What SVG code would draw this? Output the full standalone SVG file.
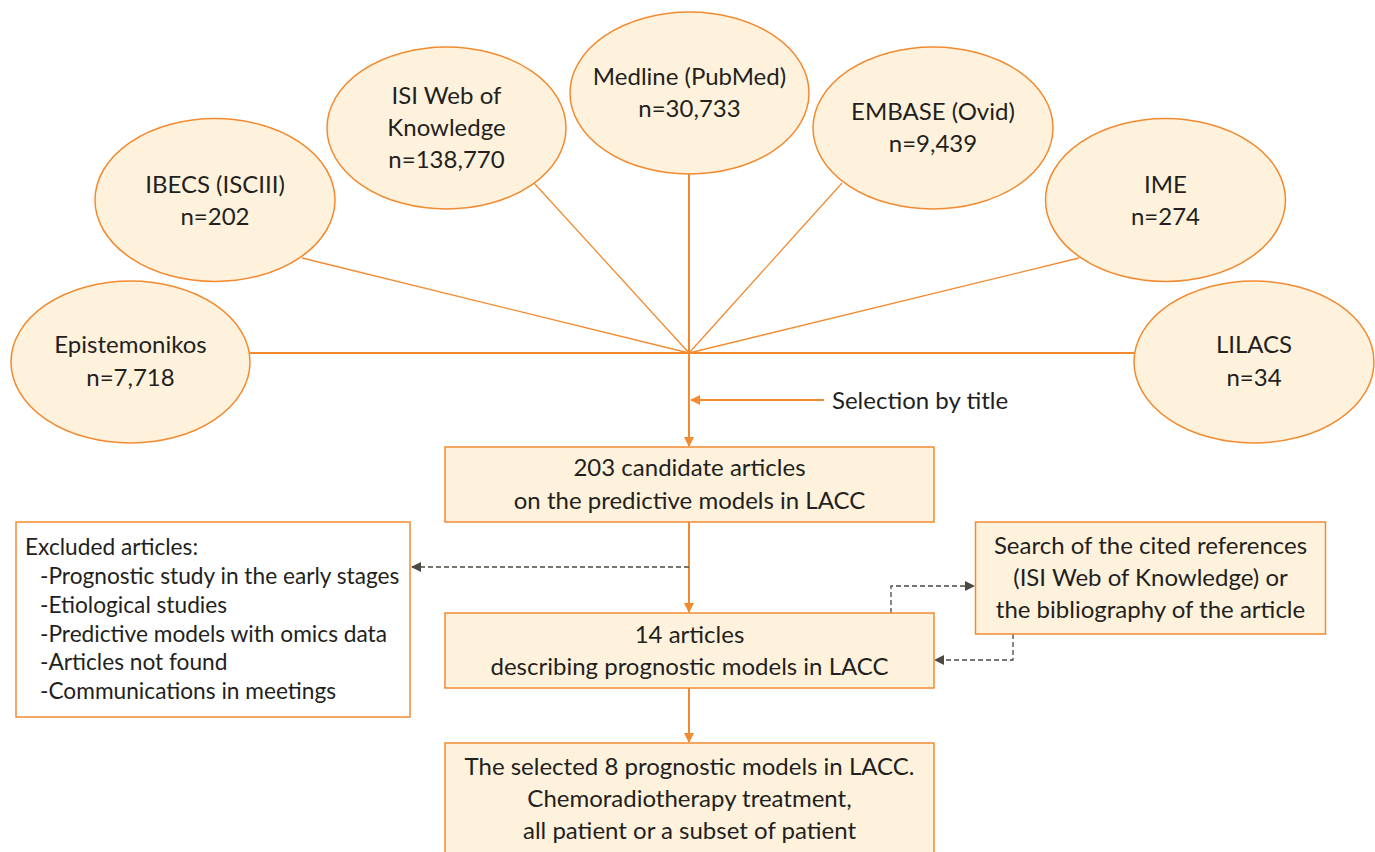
<svg xmlns="http://www.w3.org/2000/svg" width="1375" height="852" viewBox="0 0 1375 852">
<style>
.n{fill:#FEF2DC;stroke:#F28A30;stroke-width:1.5}
.b{fill:#FEF2DC;stroke:#F28A30;stroke-width:1.5}
.w{fill:#FFFFFF;stroke:#F28A30;stroke-width:1.5}
text{font-family:Lato,"Noto Sans",sans-serif;font-size:24px;fill:#231F20}
.x{font-size:22.7px}
.c{text-anchor:middle}
.l{stroke:#F28A30;stroke-width:1.3;fill:none}
.h{stroke:#F28A30;stroke-width:2;fill:none}
.d{stroke:#4A4A42;stroke-width:1.3;fill:none;stroke-dasharray:5,3}
</style>
<defs>
<marker id="ao" markerWidth="10" markerHeight="10" refX="9" refY="5" orient="auto" markerUnits="userSpaceOnUse"><path d="M0,0L10,5L0,10z" fill="#F28A30"/></marker>
<marker id="ad" markerWidth="10" markerHeight="10" refX="9" refY="5" orient="auto" markerUnits="userSpaceOnUse"><path d="M0,0L10,5L0,10z" fill="#4A4A42"/></marker>
</defs>
<rect width="1375" height="852" fill="#FFFFFF"/>
<g id="connectors">
<line class="h" x1="250" y1="353" x2="1134" y2="353"/>
<line class="l" x1="302" y1="258" x2="689" y2="353"/>
<line class="l" x1="534" y1="183" x2="689" y2="353"/>
<line class="h" x1="689" y1="174" x2="689" y2="353"/>
<line class="l" x1="842" y1="183" x2="689" y2="353"/>
<line class="l" x1="1079" y1="258" x2="689" y2="353"/>
<line class="h" x1="689" y1="353" x2="689" y2="446" marker-end="url(#ao)"/>
<line class="h" x1="824" y1="400" x2="691" y2="400" marker-end="url(#ao)"/>
<line class="h" x1="689" y1="522" x2="689" y2="612" marker-end="url(#ao)"/>
<line class="h" x1="689" y1="688" x2="689" y2="742" marker-end="url(#ao)"/>
<line class="d" x1="689" y1="567" x2="412" y2="567" marker-end="url(#ad)"/>
<polyline class="d" points="891,613 891,586 974,586" marker-end="url(#ad)"/>
<polyline class="d" points="1013,634 1013,660 935,660" marker-end="url(#ad)"/>
</g>
<g id="epistemonikos"><ellipse class="n" cx="130.5" cy="362" rx="119.5" ry="81"/><text class="c" x="130.5" y="353">Epistemonikos</text><text class="c" x="130.5" y="386">n=7,718</text></g>
<g id="ibecs"><ellipse class="n" cx="215" cy="200" rx="120" ry="81.5"/><text class="c" x="215" y="193">IBECS (ISCIII)</text><text class="c" x="215" y="225">n=202</text></g>
<g id="isi"><ellipse class="n" cx="446.5" cy="128" rx="119.5" ry="81"/><text class="c" x="446.5" y="104">ISI Web of</text><text class="c" x="446.5" y="136">Knowledge</text><text class="c" x="446.5" y="168">n=138,770</text></g>
<g id="medline"><ellipse class="n" cx="689.5" cy="93" rx="119.5" ry="81"/><text class="c" x="689.5" y="85">Medline (PubMed)</text><text class="c" x="689.5" y="117">n=30,733</text></g>
<g id="embase"><ellipse class="n" cx="933" cy="128" rx="120" ry="81"/><text class="c" x="933" y="120">EMBASE (Ovid)</text><text class="c" x="933" y="152">n=9,439</text></g>
<g id="ime"><ellipse class="n" cx="1165.5" cy="200" rx="120" ry="81.5"/><text class="c" x="1165.5" y="193">IME</text><text class="c" x="1165.5" y="225">n=274</text></g>
<g id="lilacs"><ellipse class="n" cx="1254" cy="362" rx="120" ry="81"/><text class="c" x="1254" y="353">LILACS</text><text class="c" x="1254" y="386">n=34</text></g>
<g id="selection"><text x="832" y="409">Selection by title</text></g>
<g id="candidates"><rect class="b" x="445" y="447" width="489" height="75"/><text class="c" x="689.5" y="476">203 candidate articles</text><text class="c" x="689.5" y="509">on the predictive models in LACC</text></g>
<g id="excluded"><rect class="w" x="16" y="522" width="394" height="195"/>
<text class="x" x="25" y="555">Excluded articles:</text>
<text class="x" x="40" y="584">-Prognostic study in the early stages</text>
<text class="x" x="40" y="613">-Etiological studies</text>
<text class="x" x="40" y="642">-Predictive models with omics data</text>
<text class="x" x="40" y="670">-Articles not found</text>
<text class="x" x="40" y="699">-Communications in meetings</text></g>
<g id="fourteen"><rect class="b" x="445" y="613" width="489" height="75"/><text class="c" x="689.5" y="643">14 articles</text><text class="c" x="689.5" y="675">describing prognostic models in LACC</text></g>
<g id="search"><rect class="b" x="975.5" y="522" width="350" height="112"/><text class="c" x="1150.5" y="554">Search of the cited references</text><text class="c" x="1150.5" y="586">(ISI Web of Knowledge) or</text><text class="c" x="1150.5" y="618">the bibliography of the article</text></g>
<g id="selected"><rect class="b" x="445" y="743" width="489" height="120"/><text class="c" x="689.5" y="775">The selected 8 prognostic models in LACC.</text><text class="c" x="689.5" y="807">Chemoradiotherapy treatment,</text><text class="c" x="689.5" y="839">all patient or a subset of patient</text></g>
</svg>
